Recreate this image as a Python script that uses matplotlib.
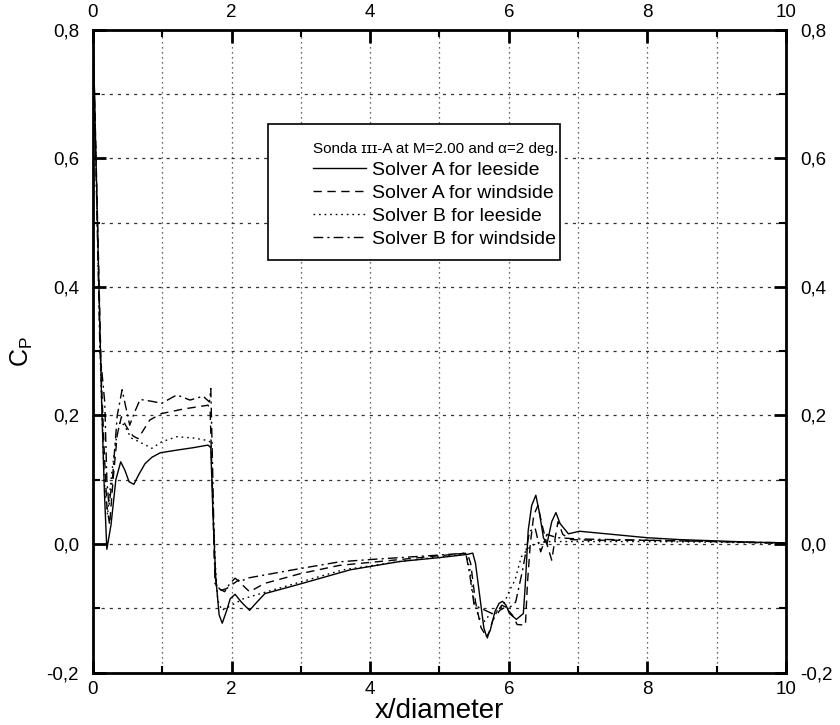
import matplotlib
matplotlib.use("Agg")
import matplotlib.pyplot as plt
from matplotlib.ticker import MultipleLocator, FuncFormatter
from matplotlib.patches import Rectangle

plt.rcParams['font.family'] = ['Liberation Sans', 'DejaVu Sans']

# ---- data (x/diameter, Cp) ----
x_a_lee = [0.0, 0.125, 0.165, 0.20, 0.26, 0.33, 0.40, 0.46, 0.52, 0.59, 0.66, 0.75, 0.85, 0.97, 1.20, 1.45, 1.66, 1.70, 1.73, 1.77, 1.82, 1.865, 1.93, 1.98, 2.05, 2.14, 2.26, 2.35, 2.48, 2.99, 3.71, 4.43, 5.0, 5.40, 5.48, 5.52, 5.58, 5.64, 5.68, 5.73, 5.80, 5.86, 5.91, 5.96, 6.01, 6.11, 6.21, 6.24, 6.28, 6.33, 6.39, 6.44, 6.50, 6.55, 6.62, 6.68, 6.74, 6.86, 7.02, 7.41, 7.99, 8.47, 9.0, 9.5, 10.0]
cp_a_lee = [0.8, 0.22, 0.08, -0.008, 0.03, 0.10, 0.128, 0.115, 0.097, 0.093, 0.108, 0.125, 0.135, 0.142, 0.146, 0.150, 0.154, 0.150, 0.05, -0.05, -0.11, -0.123, -0.103, -0.085, -0.078, -0.090, -0.103, -0.092, -0.077, -0.062, -0.040, -0.027, -0.021, -0.016, -0.014, -0.03, -0.08, -0.130, -0.144, -0.135, -0.105, -0.092, -0.089, -0.095, -0.108, -0.117, -0.108, -0.06, 0.021, 0.06, 0.076, 0.05, 0.01, 0.0, 0.035, 0.049, 0.032, 0.016, 0.020, 0.016, 0.010, 0.007, 0.005, 0.003, 0.002]

x_a_wind = [0.0, 0.12, 0.16, 0.20, 0.24, 0.29, 0.35, 0.41, 0.47, 0.51, 0.58, 0.65, 0.82, 0.99, 1.30, 1.66, 1.69, 1.72, 1.75, 1.78, 1.85, 1.93, 2.02, 2.10, 2.18, 2.26, 2.48, 2.99, 3.56, 4.43, 5.0, 5.40, 5.45, 5.52, 5.60, 5.69, 5.77, 5.87, 5.95, 6.05, 6.12, 6.24, 6.27, 6.31, 6.36, 6.42, 6.48, 6.55, 6.62, 6.67, 6.71, 6.78, 6.9, 7.2, 8.0, 9.0, 10.0]
cp_a_wind = [0.8, 0.26, 0.15, 0.06, 0.03, 0.10, 0.17, 0.198, 0.185, 0.178, 0.168, 0.164, 0.193, 0.203, 0.21, 0.216, 0.21, 0.10, -0.02, -0.066, -0.072, -0.069, -0.062, -0.056, -0.066, -0.074, -0.061, -0.046, -0.033, -0.024, -0.018, -0.014, -0.03, -0.09, -0.13, -0.146, -0.118, -0.103, -0.098, -0.11, -0.125, -0.126, -0.06, 0.0, 0.045, 0.06, 0.03, 0.0, -0.025, 0.01, 0.035, 0.015, 0.007, 0.006, 0.006, 0.004, 0.001]

x_b_lee = [0.0, 0.11, 0.16, 0.21, 0.27, 0.33, 0.39, 0.45, 0.55, 0.65, 0.85, 0.99, 1.21, 1.45, 1.66, 1.70, 1.73, 1.77, 1.80, 1.86, 1.93, 2.0, 2.17, 2.51, 2.99, 3.61, 4.43, 5.0, 5.38, 5.44, 5.50, 5.57, 5.65, 5.72, 5.82, 5.92, 6.02, 6.09, 6.18, 6.28, 6.40, 6.6, 7.0, 8.0, 9.0, 10.0]
cp_b_lee = [0.8, 0.27, 0.10, 0.045, 0.11, 0.16, 0.19, 0.185, 0.165, 0.160, 0.149, 0.159, 0.167, 0.165, 0.161, 0.158, 0.06, -0.04, -0.087, -0.103, -0.099, -0.095, -0.085, -0.074, -0.059, -0.040, -0.027, -0.020, -0.015, -0.04, -0.09, -0.115, -0.12, -0.11, -0.105, -0.095, -0.07, -0.056, -0.02, -0.007, 0.002, 0.004, 0.004, 0.004, 0.003, 0.001]

x_b_wind = [0.0, 0.10, 0.14, 0.17, 0.20, 0.23, 0.28, 0.35, 0.42, 0.48, 0.53, 0.60, 0.68, 0.85, 0.99, 1.21, 1.40, 1.59, 1.68, 1.70, 1.73, 1.76, 1.83, 1.90, 1.97, 2.05, 2.12, 2.22, 2.99, 3.56, 4.0, 4.43, 5.0, 5.38, 5.44, 5.50, 5.6, 5.7, 5.8, 5.9, 6.0, 6.1, 6.2, 6.3, 6.38, 6.46, 6.55, 6.7, 7.0, 8.0, 9.0, 10.0]
cp_b_wind = [0.8, 0.30, 0.255, 0.22, 0.10, 0.06, 0.10, 0.20, 0.24, 0.21, 0.185, 0.205, 0.225, 0.222, 0.219, 0.232, 0.224, 0.230, 0.221, 0.242, 0.10, -0.061, -0.07, -0.074, -0.062, -0.053, -0.059, -0.053, -0.038, -0.0275, -0.024, -0.021, -0.017, -0.014, -0.05, -0.095, -0.10, -0.105, -0.11, -0.095, -0.10, -0.09, -0.04, 0.02, 0.025, -0.012, 0.015, 0.010, 0.008, 0.006, 0.004, 0.002]

labels = ["Solver A for leeside", "Solver A for windside",
          "Solver B for leeside", "Solver B for windside"]
legend_title = "Sonda \u026a\u026a\u026a-A at M=2.00 and \u03b1=2 deg."

styles = ['-', (0, (6, 4)), (0, (1.2, 2.8)), (0, (7, 3, 1.5, 3))]

fig = plt.figure(figsize=(8.4, 7.25), dpi=100)
ax = fig.add_axes([0.1107, 0.0721, 0.825, 0.887])

series = [(x_a_lee, cp_a_lee), (x_a_wind, cp_a_wind), (x_b_lee, cp_b_lee), (x_b_wind, cp_b_wind)]
handles = []
for (xs, ys), ls, lab in zip(series, styles, labels):
    h, = ax.plot(xs, ys, color='black', lw=1.0, linestyle=ls, label=lab)
    handles.append(h)

ax.set_xlim(0, 10)
ax.set_ylim(-0.2, 0.8)
ax.xaxis.set_major_locator(MultipleLocator(2))
ax.xaxis.set_minor_locator(MultipleLocator(1))
ax.yaxis.set_major_locator(MultipleLocator(0.2))
ax.yaxis.set_minor_locator(MultipleLocator(0.1))
ax.yaxis.set_major_formatter(FuncFormatter(lambda v, p: f"{v:.1f}".replace('.', ',').replace('-0,0', '0,0')))
ax.xaxis.set_major_formatter(FuncFormatter(lambda v, p: f"{v:.0f}"))

# grid
for xv in range(1, 10):
    ax.axvline(xv, color='#333333', lw=0.9, linestyle=(0, (1, 3)), zorder=0)
for k in range(1, 10):
    yv = -0.2 + 0.1 * k
    ax.axhline(yv, color='#333333', lw=0.9, linestyle=(0, (2.5, 4)), zorder=0)

ax.tick_params(which='both', direction='in', top=True, right=True,
               labeltop=True, labelright=True, labelsize=13.5)
ax.tick_params(axis='y', which='both', pad=10)
ax.tick_params(axis='x', which='both', pad=6)
ax.tick_params(which='major', length=9, width=2)
ax.tick_params(which='minor', length=5, width=1.5)
for s in ax.spines.values():
    s.set_linewidth(2)

ax.set_xlabel("x/diameter", fontsize=20, labelpad=0)
ax.set_ylabel(r"C$_\mathregular{P}$", fontsize=18, labelpad=8)

# legend frame
ax.add_patch(Rectangle((0.2525, 0.642), 0.4214, 0.2115, transform=ax.transAxes,
                       facecolor='white', edgecolor='black', lw=1.2, zorder=4))
leg = ax.legend(handles=handles, loc='upper left', bbox_to_anchor=(0.3175, 0.826),
                title=legend_title, alignment='left', fontsize=14,
                title_fontsize=11, frameon=False,
                handlelength=2.7, handletextpad=0.35,
                borderpad=0, labelspacing=0.28, borderaxespad=0)
leg.set_zorder(5)

fig.savefig("out.png", dpi=100)
